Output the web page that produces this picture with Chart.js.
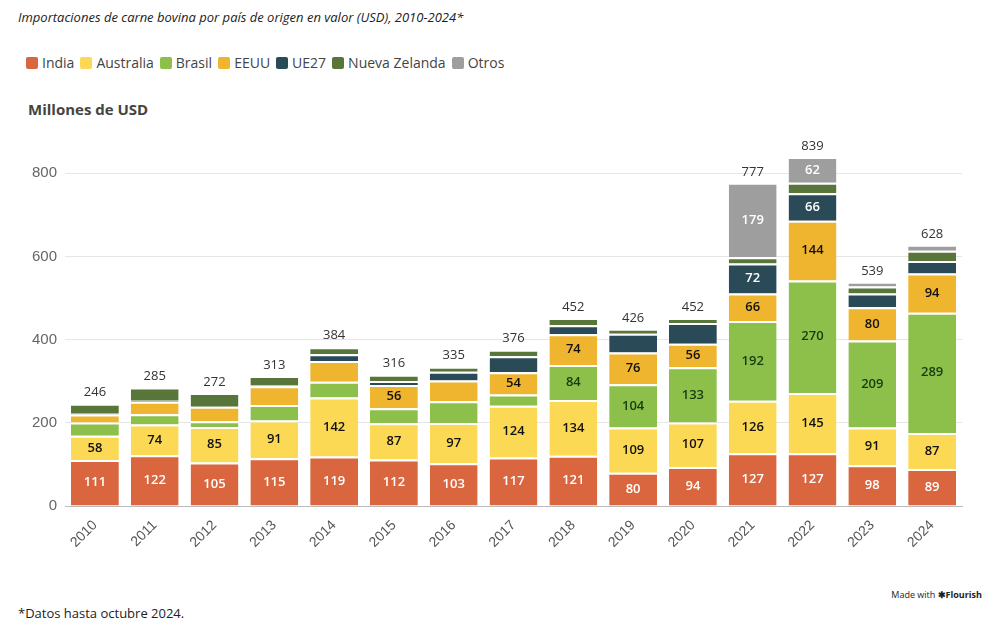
<!DOCTYPE html>
<html>
<head>
<meta charset="utf-8">
<script src="https://cdn.jsdelivr.net/npm/chart.js@4"></script>
<style>
  body { margin: 0; background: #fff; font-family: "Open Sans", "Noto Sans", sans-serif; width: 1000px; height: 635px; position: relative; overflow: hidden; }
  #title { position: absolute; left: 18px; top: 8px; font-size: 13px; font-style: italic; color: #222; }
  #legend { position: absolute; left: 26px; top: 53px; font-size: 14px; color: #444; display: flex; gap: 6px; }
  #legend span { display: inline-flex; align-items: center; }
  #legend i { display: inline-block; width: 12px; height: 12px; border-radius: 2px; margin-right: 4px; }
  #ytitle { position: absolute; left: 28px; top: 99px; font-size: 15px; font-weight: bold; color: #444; }
  #note { position: absolute; left: 18px; top: 604px; font-size: 13px; color: #222; }
  #made { position: absolute; right: 18px; top: 588px; font-size: 9px; color: #222; }
  #wrap { position: absolute; left: 0; top: 120px; width: 1000px; height: 434px; }
</style>
</head>
<body>
<div id="title">Importaciones de carne bovina por país de origen en valor (USD), 2010-2024*</div>
<div id="legend"></div>
<div id="ytitle">Millones de USD</div>
<div id="wrap"><canvas id="chart"></canvas></div>
<div id="note">*Datos hasta octubre 2024.</div>
<div id="made">Made with <b>✱Flourish</b></div>
<script>
const years = ["2010","2011","2012","2013","2014","2015","2016","2017","2018","2019","2020","2021","2022","2023","2024"];
const india     = [111,122,105,115,119,112,103,117,121, 80, 94,127,127, 98, 89];
const australia = [ 58, 74, 85, 91,142, 87, 97,124,134,109,107,126,145, 91, 87];
const brasil    = [ 32, 25, 14, 37, 38, 36, 52, 27, 84,104,133,192,270,209,289];
const eeuu      = [ 19, 30, 35, 45, 50, 56, 50, 54, 74, 76, 56, 66,144, 80, 94];
const ue27      = [  2,  2,  0,  2, 16, 10, 21, 38, 22, 45, 50, 72, 66, 33, 30];
const nz        = [ 24, 32, 33, 23, 17, 15, 12, 16, 17, 12, 12, 15, 25, 17, 25];
const otros     = [  0,  0,  0,  0,  0,  0,  0,  0,  0,  0,  0,179, 62, 11, 14];
const totals    = [246,285,272,313,384,316,335,376,452,426,452,777,839,539,628];

const series = [
  { label: "India", data: india, color: "#d9663f", text: "#fff" },
  { label: "Australia", data: australia, color: "#fcd955", text: "#111" },
  { label: "Brasil", data: brasil, color: "#8cc04b", text: "#143d10" },
  { label: "EEUU", data: eeuu, color: "#f0b52f", text: "#111" },
  { label: "UE27", data: ue27, color: "#2b4a57", text: "#fff" },
  { label: "Nueva Zelanda", data: nz, color: "#58763a", text: "#fff" },
  { label: "Otros", data: otros, color: "#9e9e9e", text: "#fff" }
];

const legend = document.getElementById("legend");
series.forEach(s => {
  legend.innerHTML += `<span><i style="background:${s.color}"></i>${s.label}</span>`;
});

// segment labels and totals on top
const labelPlugin = {
  id: "labels",
  afterDatasetsDraw(chart) {
    const ctx = chart.ctx;
    ctx.save();
    ctx.textAlign = "center";
    ctx.textBaseline = "middle";
    chart.data.datasets.forEach((ds, di) => {
      chart.getDatasetMeta(di).data.forEach((bar, i) => {
        const v = ds.data[i];
        if (v < 53) return;
        ctx.font = "600 13px 'Open Sans', sans-serif";
        ctx.fillStyle = series[di].text;
        ctx.fillText(v, bar.x, (bar.y + bar.base) / 2);
      });
    });
    const last = chart.getDatasetMeta(series.length - 1).data;
    ctx.font = "13px 'Open Sans', sans-serif";
    ctx.fillStyle = "#333";
    last.forEach((bar, i) => {
      ctx.fillText(totals[i], bar.x, chart.scales.y.getPixelForValue(totals[i]) - 11);
    });
    ctx.restore();
  }
};

new Chart(document.getElementById("chart"), {
  type: "bar",
  data: {
    labels: years,
    datasets: series.map(s => ({
      label: s.label, data: s.data, backgroundColor: s.color,
      borderColor: "#fff", borderWidth: { top: 2 }, borderSkipped: "bottom"
    }))
  },
  options: {
    responsive: true, maintainAspectRatio: false, animation: false,
    layout: { padding: { top: 20, right: 38, left: 24 } },
    plugins: { legend: { display: false }, tooltip: { enabled: false } },
    scales: {
      x: {
        stacked: true, grid: { display: false },
        border: { color: "#bbb" },
        ticks: { color: "#555", font: { size: 14 }, maxRotation: 45, minRotation: 45 }
      },
      y: {
        stacked: true, min: 0, max: 880,
        afterBuildTicks: ax => { ax.ticks = ax.ticks.filter(t => t.value % 200 === 0); },
        ticks: { stepSize: 200, color: "#666", font: { size: 15 }, padding: 8 },
        grid: { color: "#e6e6e6", drawTicks: false },
        border: { display: false }
      }
    },
    datasets: { bar: { barPercentage: 0.8, categoryPercentage: 1 } }
  },
  plugins: [labelPlugin]
});
</script>
</body>
</html>
